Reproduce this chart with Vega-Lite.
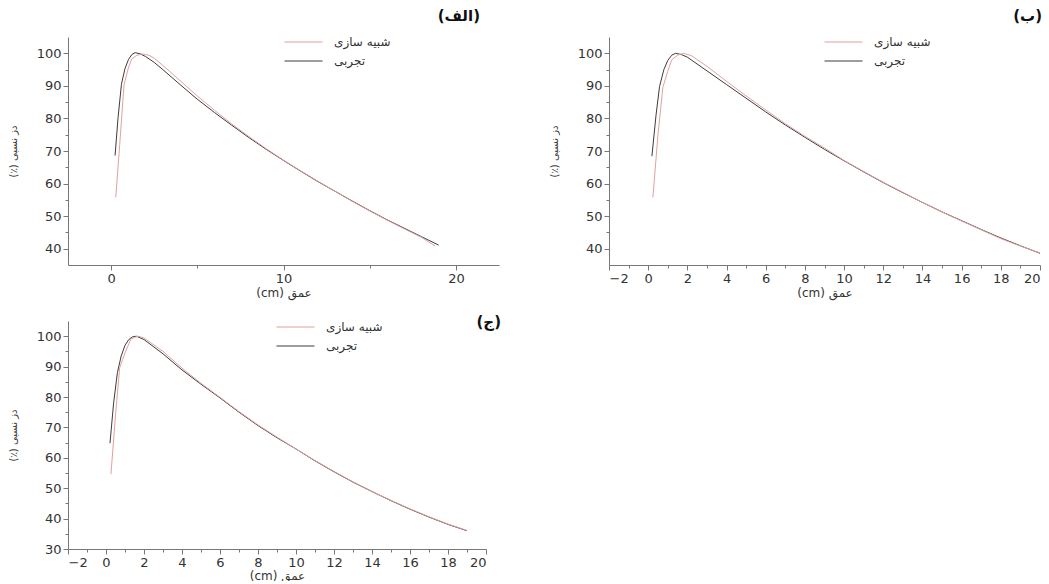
{
  "$schema": "https://vega.github.io/schema/vega-lite/v6.json",
  "padding": {"left": 8, "top": 8, "right": 5, "bottom": 0},
  "background": "white",
  "datasets": {
    "a": [
      {"d": 0.23, "v": 68.6, "s": "تجربی"}, {"d": 0.4, "v": 80, "s": "تجربی"}, {"d": 0.6, "v": 90.5, "s": "تجربی"}, {"d": 0.8, "v": 95.2, "s": "تجربی"}, {"d": 1.0, "v": 98, "s": "تجربی"}, {"d": 1.2, "v": 99.6, "s": "تجربی"}, {"d": 1.4, "v": 100.2, "s": "تجربی"}, {"d": 1.7, "v": 99.8, "s": "تجربی"}, {"d": 2, "v": 99.0, "s": "تجربی"}, {"d": 2.5, "v": 97.2, "s": "تجربی"}, {"d": 3, "v": 95.0, "s": "تجربی"}, {"d": 4, "v": 90.4, "s": "تجربی"}, {"d": 5, "v": 85.9, "s": "تجربی"}, {"d": 6, "v": 81.8, "s": "تجربی"}, {"d": 7, "v": 77.9, "s": "تجربی"}, {"d": 8, "v": 74.1, "s": "تجربی"}, {"d": 9, "v": 70.5, "s": "تجربی"}, {"d": 10, "v": 67.1, "s": "تجربی"}, {"d": 11, "v": 63.8, "s": "تجربی"}, {"d": 12, "v": 60.6, "s": "تجربی"}, {"d": 13, "v": 57.6, "s": "تجربی"}, {"d": 14, "v": 54.6, "s": "تجربی"}, {"d": 15, "v": 51.7, "s": "تجربی"}, {"d": 16, "v": 48.9, "s": "تجربی"}, {"d": 17, "v": 46.3, "s": "تجربی"}, {"d": 18, "v": 43.7, "s": "تجربی"}, {"d": 19, "v": 41.1, "s": "تجربی"},
      {"d": 0.27, "v": 55.7, "s": "شبیه سازی"}, {"d": 0.5, "v": 72, "s": "شبیه سازی"}, {"d": 0.75, "v": 90.3, "s": "شبیه سازی"}, {"d": 1.0, "v": 95.5, "s": "شبیه سازی"}, {"d": 1.2, "v": 98.3, "s": "شبیه سازی"}, {"d": 1.5, "v": 99.4, "s": "شبیه سازی"}, {"d": 1.8, "v": 99.8, "s": "شبیه سازی"}, {"d": 2.2, "v": 99.4, "s": "شبیه سازی"}, {"d": 2.5, "v": 98.5, "s": "شبیه سازی"}, {"d": 3, "v": 96.3, "s": "شبیه سازی"}, {"d": 4, "v": 91.6, "s": "شبیه سازی"}, {"d": 5, "v": 86.9, "s": "شبیه سازی"}, {"d": 6, "v": 82.5, "s": "شبیه سازی"}, {"d": 7, "v": 78.3, "s": "شبیه سازی"}, {"d": 8, "v": 74.4, "s": "شبیه سازی"}, {"d": 9, "v": 70.7, "s": "شبیه سازی"}, {"d": 10, "v": 67.2, "s": "شبیه سازی"}, {"d": 11, "v": 63.9, "s": "شبیه سازی"}, {"d": 12, "v": 60.7, "s": "شبیه سازی"}, {"d": 13, "v": 57.6, "s": "شبیه سازی"}, {"d": 14, "v": 54.5, "s": "شبیه سازی"}, {"d": 15, "v": 51.6, "s": "شبیه سازی"}, {"d": 16, "v": 48.8, "s": "شبیه سازی"}, {"d": 17, "v": 46.1, "s": "شبیه سازی"}, {"d": 18, "v": 43.5, "s": "شبیه سازی"}, {"d": 18.8, "v": 40.8, "s": "شبیه سازی"}
    ],
    "b": [
      {"d": 0.19, "v": 68.4, "s": "تجربی"}, {"d": 0.4, "v": 81, "s": "تجربی"}, {"d": 0.58, "v": 89.8, "s": "تجربی"}, {"d": 0.8, "v": 95, "s": "تجربی"}, {"d": 1.0, "v": 97.8, "s": "تجربی"}, {"d": 1.2, "v": 99.4, "s": "تجربی"}, {"d": 1.4, "v": 100, "s": "تجربی"}, {"d": 1.7, "v": 99.6, "s": "تجربی"}, {"d": 2, "v": 98.8, "s": "تجربی"}, {"d": 3, "v": 94.6, "s": "تجربی"}, {"d": 4, "v": 90.4, "s": "تجربی"}, {"d": 5, "v": 86.2, "s": "تجربی"}, {"d": 6, "v": 82.0, "s": "تجربی"}, {"d": 7, "v": 78.0, "s": "تجربی"}, {"d": 8, "v": 74.2, "s": "تجربی"}, {"d": 9, "v": 70.5, "s": "تجربی"}, {"d": 10, "v": 67.0, "s": "تجربی"}, {"d": 11, "v": 63.6, "s": "تجربی"}, {"d": 12, "v": 60.3, "s": "تجربی"}, {"d": 13, "v": 57.2, "s": "تجربی"}, {"d": 14, "v": 54.2, "s": "تجربی"}, {"d": 15, "v": 51.3, "s": "تجربی"}, {"d": 16, "v": 48.6, "s": "تجربی"}, {"d": 17, "v": 45.9, "s": "تجربی"}, {"d": 18, "v": 43.3, "s": "تجربی"}, {"d": 19, "v": 40.9, "s": "تجربی"}, {"d": 20, "v": 38.6, "s": "تجربی"},
      {"d": 0.24, "v": 55.7, "s": "شبیه سازی"}, {"d": 0.5, "v": 75, "s": "شبیه سازی"}, {"d": 0.75, "v": 89.6, "s": "شبیه سازی"}, {"d": 1.0, "v": 94.5, "s": "شبیه سازی"}, {"d": 1.2, "v": 98.0, "s": "شبیه سازی"}, {"d": 1.5, "v": 99.4, "s": "شبیه سازی"}, {"d": 1.8, "v": 100, "s": "شبیه سازی"}, {"d": 2.2, "v": 99.3, "s": "شبیه سازی"}, {"d": 3, "v": 96.0, "s": "شبیه سازی"}, {"d": 4, "v": 91.4, "s": "شبیه سازی"}, {"d": 5, "v": 86.9, "s": "شبیه سازی"}, {"d": 6, "v": 82.6, "s": "شبیه سازی"}, {"d": 7, "v": 78.4, "s": "شبیه سازی"}, {"d": 8, "v": 74.5, "s": "شبیه سازی"}, {"d": 9, "v": 70.9, "s": "شبیه سازی"}, {"d": 10, "v": 67.1, "s": "شبیه سازی"}, {"d": 11, "v": 63.7, "s": "شبیه سازی"}, {"d": 12, "v": 60.4, "s": "شبیه سازی"}, {"d": 13, "v": 57.3, "s": "شبیه سازی"}, {"d": 14, "v": 54.2, "s": "شبیه سازی"}, {"d": 15, "v": 51.3, "s": "شبیه سازی"}, {"d": 16, "v": 48.5, "s": "شبیه سازی"}, {"d": 17, "v": 45.8, "s": "شبیه سازی"}, {"d": 18, "v": 43.1, "s": "شبیه سازی"}, {"d": 19, "v": 40.8, "s": "شبیه سازی"}, {"d": 20, "v": 38.7, "s": "شبیه سازی"}
    ],
    "c": [
      {"d": 0.21, "v": 64.8, "s": "تجربی"}, {"d": 0.4, "v": 78, "s": "تجربی"}, {"d": 0.6, "v": 88, "s": "تجربی"}, {"d": 0.8, "v": 93.5, "s": "تجربی"}, {"d": 1.0, "v": 97, "s": "تجربی"}, {"d": 1.2, "v": 98.9, "s": "تجربی"}, {"d": 1.4, "v": 99.8, "s": "تجربی"}, {"d": 1.6, "v": 100, "s": "تجربی"}, {"d": 2, "v": 98.9, "s": "تجربی"}, {"d": 3, "v": 94.2, "s": "تجربی"}, {"d": 4, "v": 88.9, "s": "تجربی"}, {"d": 5, "v": 84.2, "s": "تجربی"}, {"d": 6, "v": 79.7, "s": "تجربی"}, {"d": 7, "v": 75.0, "s": "تجربی"}, {"d": 8, "v": 70.6, "s": "تجربی"}, {"d": 9, "v": 66.6, "s": "تجربی"}, {"d": 10, "v": 62.9, "s": "تجربی"}, {"d": 11, "v": 59.0, "s": "تجربی"}, {"d": 12, "v": 55.4, "s": "تجربی"}, {"d": 13, "v": 52.0, "s": "تجربی"}, {"d": 14, "v": 48.9, "s": "تجربی"}, {"d": 15, "v": 45.9, "s": "تجربی"}, {"d": 16, "v": 43.1, "s": "تجربی"}, {"d": 17, "v": 40.5, "s": "تجربی"}, {"d": 18, "v": 38.1, "s": "تجربی"}, {"d": 19, "v": 36.0, "s": "تجربی"},
      {"d": 0.26, "v": 54.6, "s": "شبیه سازی"}, {"d": 0.5, "v": 74, "s": "شبیه سازی"}, {"d": 0.72, "v": 89.6, "s": "شبیه سازی"}, {"d": 1.0, "v": 94.5, "s": "شبیه سازی"}, {"d": 1.3, "v": 98.9, "s": "شبیه سازی"}, {"d": 1.5, "v": 99.6, "s": "شبیه سازی"}, {"d": 1.7, "v": 100, "s": "شبیه سازی"}, {"d": 2, "v": 99.4, "s": "شبیه سازی"}, {"d": 3, "v": 95.0, "s": "شبیه سازی"}, {"d": 4, "v": 89.5, "s": "شبیه سازی"}, {"d": 5, "v": 84.5, "s": "شبیه سازی"}, {"d": 6, "v": 79.9, "s": "شبیه سازی"}, {"d": 7, "v": 75.2, "s": "شبیه سازی"}, {"d": 8, "v": 70.8, "s": "شبیه سازی"}, {"d": 9, "v": 66.8, "s": "شبیه سازی"}, {"d": 10, "v": 62.9, "s": "شبیه سازی"}, {"d": 11, "v": 59.1, "s": "شبیه سازی"}, {"d": 12, "v": 55.5, "s": "شبیه سازی"}, {"d": 13, "v": 52.1, "s": "شبیه سازی"}, {"d": 14, "v": 48.9, "s": "شبیه سازی"}, {"d": 15, "v": 46.0, "s": "شبیه سازی"}, {"d": 16, "v": 43.2, "s": "شبیه سازی"}, {"d": 17, "v": 40.6, "s": "شبیه سازی"}, {"d": 18, "v": 38.2, "s": "شبیه سازی"}, {"d": 19, "v": 36.1, "s": "شبیه سازی"}
    ]
  },
  "bounds": "flush",
  "columns": 2,
  "spacing": {"row": 56, "column": 110},
  "resolve": {"scale": {"color": "independent", "x": "independent", "y": "independent"}, "legend": {"color": "independent"}, "axis": {"x": "independent", "y": "independent"}},
  "concat": [
    {
      "width": 431, "height": 228,
      "data": {"name": "a"},
      "title": {"text": "(الف)", "anchor": "end", "frame": "group", "offset": 8, "dx": -19},
      "mark": {"type": "line", "strokeWidth": 1},
      "encoding": {
        "x": {"field": "d", "type": "quantitative", "scale": {"domain": [-2.5, 22.5], "nice": false, "zero": false},
          "axis": {"title": "(cm) عمق", "values": [0, 5, 10, 15, 20], "labelExpr": "datum.value % 10 === 0 ? datum.label : ''", "tickSize": {"condition": {"test": "datum.value % 10 !== 0", "value": 3}, "value": 5}}},
        "y": {"field": "v", "type": "quantitative", "scale": {"domain": [35, 105], "nice": false, "zero": false},
          "axis": {"title": "(٪) دز نسبی", "values": [40, 45, 50, 55, 60, 65, 70, 75, 80, 85, 90, 95, 100], "labelExpr": "datum.value % 10 === 0 ? datum.label : ''", "tickSize": {"condition": {"test": "datum.value % 10 !== 0", "value": 3}, "value": 5}}},
        "color": {"field": "s", "type": "nominal", "scale": {"domain": ["شبیه سازی", "تجربی"], "range": ["#e3a0a0", "#3c3c3c"]},
          "legend": {"orient": "none", "legendX": 225, "legendY": -5.5}}
      }
    },
    {
      "width": 431, "height": 228,
      "data": {"name": "b"},
      "title": {"text": "(ب)", "anchor": "end", "frame": "group", "offset": 8, "dx": 2},
      "mark": {"type": "line", "strokeWidth": 1},
      "encoding": {
        "x": {"field": "d", "type": "quantitative", "scale": {"domain": [-2, 20], "nice": false, "zero": false},
          "axis": {"title": "(cm) عمق", "values": [-2, -1, 0, 1, 2, 3, 4, 5, 6, 7, 8, 9, 10, 11, 12, 13, 14, 15, 16, 17, 18, 19, 20], "labelExpr": "datum.value % 2 === 0 ? datum.label : ''", "tickSize": {"condition": {"test": "datum.value % 2 !== 0", "value": 3}, "value": 5}}},
        "y": {"field": "v", "type": "quantitative", "scale": {"domain": [35, 105], "nice": false, "zero": false},
          "axis": {"title": "(٪) دز نسبی", "values": [40, 45, 50, 55, 60, 65, 70, 75, 80, 85, 90, 95, 100], "labelExpr": "datum.value % 10 === 0 ? datum.label : ''", "tickSize": {"condition": {"test": "datum.value % 10 !== 0", "value": 3}, "value": 5}}},
        "color": {"field": "s", "type": "nominal", "scale": {"domain": ["شبیه سازی", "تجربی"], "range": ["#e3a0a0", "#3c3c3c"]},
          "legend": {"orient": "none", "legendX": 224, "legendY": -5.5}}
      }
    },
    {
      "width": 418, "height": 228,
      "data": {"name": "c"},
      "title": {"text": "(ج)", "anchor": "end", "frame": "group", "offset": 0, "dx": 15, "dy": 13.5},
      "mark": {"type": "line", "strokeWidth": 1},
      "encoding": {
        "x": {"field": "d", "type": "quantitative", "scale": {"domain": [-2, 20], "nice": false, "zero": false},
          "axis": {"title": "(cm) عمق", "titlePadding": 1, "values": [-2, -1, 0, 1, 2, 3, 4, 5, 6, 7, 8, 9, 10, 11, 12, 13, 14, 15, 16, 17, 18, 19, 20], "labelExpr": "datum.value % 2 === 0 ? datum.label : ''", "tickSize": {"condition": {"test": "datum.value % 2 !== 0", "value": 3}, "value": 5}}},
        "y": {"field": "v", "type": "quantitative", "scale": {"domain": [30, 105], "nice": false, "zero": false},
          "axis": {"title": "(٪) دز نسبی", "values": [30, 35, 40, 45, 50, 55, 60, 65, 70, 75, 80, 85, 90, 95, 100], "labelExpr": "datum.value % 10 === 0 ? datum.label : ''", "tickSize": {"condition": {"test": "datum.value % 10 !== 0", "value": 3}, "value": 5}}},
        "color": {"field": "s", "type": "nominal", "scale": {"domain": ["شبیه سازی", "تجربی"], "range": ["#e3a0a0", "#3c3c3c"]},
          "legend": {"orient": "none", "legendX": 217, "legendY": -4.5}}
      }
    }
  ],
  "config": {
    "view": {"stroke": null},
    "font": "DejaVu Sans",
    "axis": {"grid": false, "domainColor": "#777", "tickColor": "#777", "labelFont": "DejaVu Sans", "labelFontSize": 13, "labelColor": "#333", "labelPadding": 2, "titleFont": "DejaVu Sans", "titleFontSize": 12, "titleFontWeight": "normal", "titleColor": "#333"},
    "axisX": {"titlePadding": 2},
    "axisY": {"titleFontSize": 10, "titlePadding": 18},
    "legend": {"title": null, "symbolType": "M-2,0H2", "symbolSize": 361, "symbolStrokeWidth": 1.2, "labelFont": "DejaVu Sans", "labelFontSize": 12, "labelColor": "#333", "labelOffset": 20, "rowPadding": 2},
    "title": {"font": "DejaVu Sans", "fontSize": 15, "fontWeight": "bold", "color": "#111"}
  }
}
